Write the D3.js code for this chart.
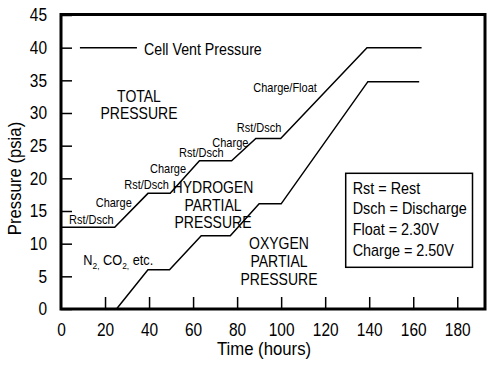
<!DOCTYPE html>
<html>
<head>
<meta charset="utf-8">
<script src="https://cdn.jsdelivr.net/npm/d3@7"></script>
<style>
  html, body { margin: 0; padding: 0; background: #fff; }
  svg text { font-family: "Liberation Sans", Arial, sans-serif; fill: #000; }
</style>
</head>
<body>
<svg id="chart" width="500" height="365"></svg>
<script>
// ---- data ----
const totalTime = [0, 24.4, 39.5, 49.6, 62.9, 77.5, 88.5, 99.8, 139, 163.8];
const totalPsia = [12.5, 12.5, 17.7, 17.7, 22.7, 22.7, 26.1, 26.1, 40, 40];
const partialTime = [25.2, 39.5, 49.3, 63.7, 76.9, 90.0, 100.0, 139.4, 162.7];
const partialPsia = [0, 6.0, 6.0, 11.2, 11.2, 16.1, 16.1, 34.8, 34.8];
const ventTime = [8.6, 34.5];
const ventPsia = [40, 40];
const xTickLabels = [0, 20, 40, 60, 80, 100, 120, 140, 160, 180];
const yTicks = [0, 5, 10, 15, 20, 25, 30, 35, 40, 45];
const stepLabels = ["Rst/Dsch", "Charge", "Rst/Dsch", "Charge", "Rst/Dsch", "Charge", "Rst/Dsch", "Charge/Float"];
const legendLines = ["Rst = Rest", "Dsch = Discharge", "Float = 2.30V", "Charge = 2.50V"];

// ---- layout ----
const L = 61, R = 485, T = 14.5, B = 309;
const svg = d3.select("#chart");
const x = d3.scaleLinear().domain([0, 192.6]).range([L, R]);
const y = d3.scaleLinear().domain([0, 45]).range([B, 15]);

function txt(px, py, s, size, anchor, sx) {
  return svg.append("text")
    .attr("transform", `translate(${px},${py}) scale(${sx},1)`)
    .attr("text-anchor", anchor)
    .style("font-size", size + "px")
    .text(s);
}

// axes
const yAxis = svg.append("g").attr("transform", `translate(${L},0)`)
  .call(d3.axisLeft(y).tickValues(yTicks).tickSize(-11).tickPadding(14).tickFormat(d3.format("d")));
const xAxis = svg.append("g").attr("transform", `translate(0,${B})`)
  .call(d3.axisBottom(x).tickValues(xTickLabels).tickSize(-12).tickPadding(14).tickFormat(d3.format("d")));
[yAxis, xAxis].forEach(g => {
  g.select(".domain").remove();
  g.selectAll(".tick line").attr("stroke", "#000").attr("stroke-width", 1.5);
  g.selectAll("text").style("font-size", "18px").attr("fill", "#000")
    .style("font-family", '"Liberation Sans", Arial, sans-serif');
});
xAxis.selectAll(".tick").filter(d => d === 0).select("line").remove();
yAxis.selectAll("text").attr("x", -14 / 0.86).attr("transform", "scale(0.86,1)");
xAxis.selectAll("text").attr("transform", "scale(0.86,1)");

// frame
svg.append("rect").attr("x", L).attr("y", T).attr("width", R - L).attr("height", B - T)
  .attr("fill", "none").attr("stroke", "#000").attr("stroke-width", 3);

// lines
const line = d3.line().x(d => x(d[0])).y(d => y(d[1]));
const series = [
  d3.zip(totalTime, totalPsia),
  d3.zip(partialTime, partialPsia),
  d3.zip(ventTime, ventPsia)
];
svg.selectAll("path.series").data(series).join("path")
  .attr("class", "series")
  .attr("d", line)
  .attr("fill", "none").attr("stroke", "#000").attr("stroke-width", 1.5)
  .attr("stroke-linejoin", "miter");

// step labels
const stepPos = [[69, 224.3], [95.7, 207.3], [124.3, 189.3], [150, 173.3], [179, 157.3], [212.3, 146.7], [236.7, 131.7], [253.3, 92.3]];
stepLabels.forEach((s, i) => txt(stepPos[i][0], stepPos[i][1], s, 12.5, "start", 0.88));

// big labels
txt(144, 55, "Cell Vent Pressure", 16, "start", 0.89);
txt(139, 101.7, "TOTAL", 16, "middle", 0.875);
txt(139, 119.3, "PRESSURE", 16, "middle", 0.875);
txt(213, 193, "HYDROGEN", 16, "middle", 0.875);
txt(213, 210.5, "PARTIAL", 16, "middle", 0.875);
txt(213, 228, "PRESSURE", 16, "middle", 0.875);
txt(279, 249.3, "OXYGEN", 16, "middle", 0.875);
txt(279, 267.3, "PARTIAL", 16, "middle", 0.875);
txt(279, 285, "PRESSURE", 16, "middle", 0.875);

// N2, CO2, etc.
const n2 = txt(83.3, 265, "", 14.5, "start", 0.88);
n2.append("tspan").text("N");
n2.append("tspan").attr("dy", 4).style("font-size", "9.5px").text("2,");
n2.append("tspan").attr("dy", -4).text(" CO");
n2.append("tspan").attr("dy", 4).style("font-size", "9.5px").text("2,");
n2.append("tspan").attr("dy", -4).text(" etc.");

// legend box
svg.append("rect").attr("x", 345.7).attr("y", 173.3).attr("width", 126.8).attr("height", 94)
  .attr("fill", "#fff").attr("stroke", "#000").attr("stroke-width", 1.5);
legendLines.forEach((s, i) => txt(352.7, 193.5 + i * 20.7, s, 16, "start", 0.9));

// axis titles
txt(264, 355, "Time (hours)", 18, "middle", 0.93);
svg.append("text")
  .attr("transform", "translate(21,178.5) rotate(-90) scale(0.93,1)")
  .attr("text-anchor", "middle").style("font-size", "18px").text("Pressure (psia)");
</script>
</body>
</html>
